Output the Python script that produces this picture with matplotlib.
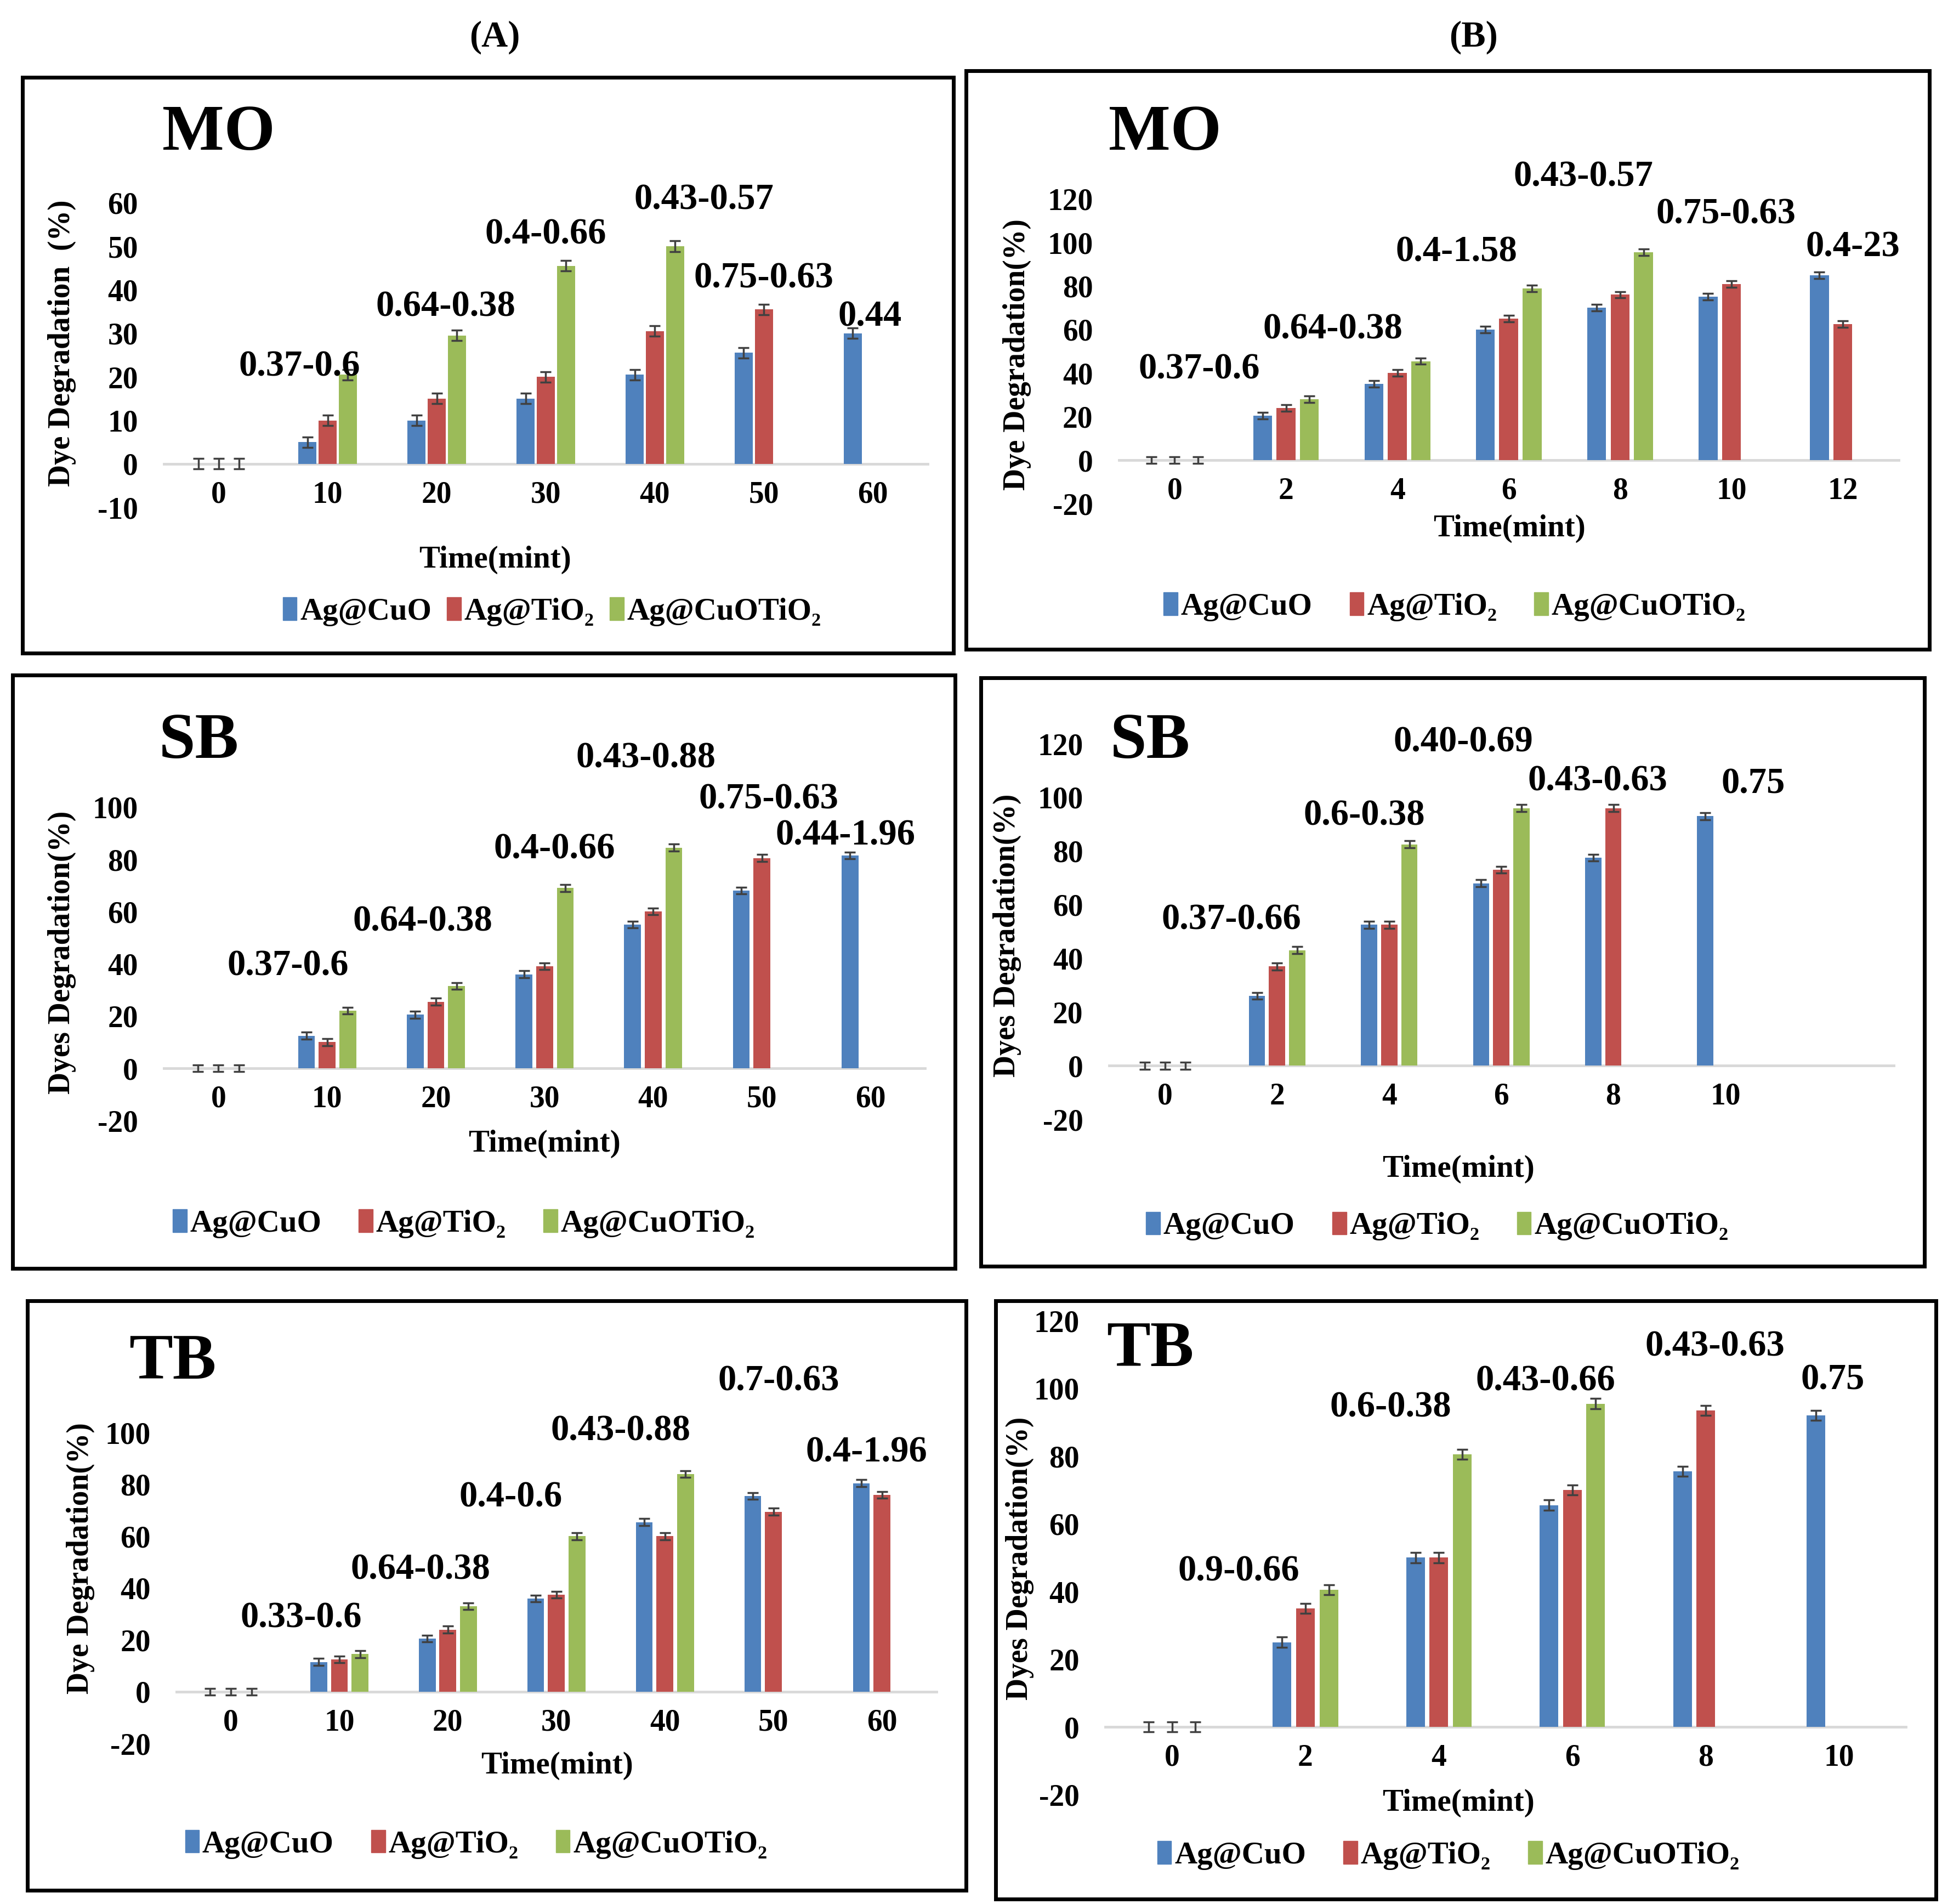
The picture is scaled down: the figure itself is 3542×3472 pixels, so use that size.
import numpy as np
import matplotlib
matplotlib.use("Agg")
import matplotlib.pyplot as plt
import matplotlib.patches as mpatches

plt.rcParams['font.family'] = ['Liberation Serif', 'DejaVu Serif']
plt.rcParams['font.weight'] = 'bold'
plt.rcParams['axes.unicode_minus'] = False

nan = np.nan

# categories (time, min)
times_a = ['0', '10', '20', '30', '40', '50', '60']
times_b_mo = ['0', '2', '4', '6', '8', '10', '12']
times_b = ['0', '2', '4', '6', '8', '10']

series_names = ['Ag@CuO', 'Ag@TiO\u2082', 'Ag@CuOTiO\u2082']

# MO (A)
mo_a_cuo = [0, 5, 10, 15, 20.5, 25.5, 30]
mo_a_tio2 = [0, 10, 15, 20, 30.5, 35.5, nan]
mo_a_cuotio2 = [0, 20.5, 29.5, 45.5, 50, nan, nan]
mo_a_notes = ['0.37-0.6', '0.64-0.38', '0.4-0.66', '0.43-0.57', '0.75-0.63', '0.44']

# MO (B)
mo_b_cuo = [0, 20.5, 35, 60, 70, 75, 85]
mo_b_tio2 = [0, 24, 40, 65, 76, 81, 62.5]
mo_b_cuotio2 = [0, 28, 45.5, 79, 95.5, nan, nan]
mo_b_notes = ['0.37-0.6', '0.64-0.38', '0.4-1.58', '0.43-0.57', '0.75-0.63', '0.4-23']

# SB (A)
sb_a_cuo = [0, 12.5, 20.5, 36, 55, 68, 81.5]
sb_a_tio2 = [0, 10, 25.5, 39, 60, 80.5, nan]
sb_a_cuotio2 = [0, 22, 31.5, 69, 84.5, nan, nan]
sb_a_notes = ['0.37-0.6', '0.64-0.38', '0.4-0.66', '0.43-0.88', '0.75-0.63', '0.44-1.96']

# SB (B)
sb_b_cuo = [0, 26, 52.5, 68, 77.5, 93]
sb_b_tio2 = [0, 37, 52.5, 73, 96, nan]
sb_b_cuotio2 = [0, 43, 82.5, 96, nan, nan]
sb_b_notes = ['0.37-0.66', '0.6-0.38', '0.40-0.69', '0.43-0.63', '0.75']

# TB (A)
tb_a_cuo = [0, 11.5, 20.5, 36, 65.5, 75.5, 80.5]
tb_a_tio2 = [0, 12.5, 24, 37.5, 60, 69.5, 76]
tb_a_cuotio2 = [0, 14.5, 33, 60, 84, nan, nan]
tb_a_notes = ['0.33-0.6', '0.64-0.38', '0.4-0.6', '0.43-0.88', '0.7-0.63', '0.4-1.96']

# TB (B)
tb_b_cuo = [0, 25, 50, 65.5, 75.5, 92]
tb_b_tio2 = [0, 35, 50, 70, 93.5, nan]
tb_b_cuotio2 = [0, 40.5, 80.5, 95.5, nan, nan]
tb_b_notes = ['0.9-0.66', '0.6-0.38', '0.43-0.66', '0.43-0.63', '0.75']

COLORS = ['#4F81BD', '#C0504D', '#9BBB59']

# reference layout measured on a 1562 x 1531 view of the figure
VW, VH = 1562.0, 1531.0


def fx(x):
    return x / VW


def fy(y):
    return 1 - y / VH


def panel(fig, name, cats, series, err, notes, lay):
    x0, x1, ytop, ybot = lay['ax']
    ax = fig.add_axes([fx(x0), fy(ybot), fx(x1) - fx(x0), fy(ytop) - fy(ybot)])
    ax.patch.set_alpha(0)
    n_slots = lay.get('slots', len(cats))
    x = np.arange(len(cats))
    w, off = lay['bar']
    for k, vals in enumerate(series):
        vals = np.array(vals, dtype=float)
        ok = ~np.isnan(vals)
        xs = x[ok] + (k - 1) * off
        ax.bar(xs, vals[ok], width=w, color=COLORS[k], zorder=2)
        ax.errorbar(xs, vals[ok], yerr=err, fmt='none', ecolor='#404040',
                    elinewidth=2.5, capsize=7, capthick=2.5, zorder=3)

    ax.set_xlim(-0.5, n_slots - 0.5)
    ax.set_ylim(*lay['ylim'])
    ax.set_yticks(np.arange(lay['ylim'][0], lay['ylim'][1] + 1, lay['ystep']))
    ax.set_xticks(x)
    ax.set_xticklabels(cats)
    for s in ['top', 'right', 'left']:
        ax.spines[s].set_visible(False)
    ax.spines['bottom'].set_position(('data', 0))
    ax.spines['bottom'].set_color('#D9D9D9')
    ax.spines['bottom'].set_linewidth(3.5)
    ax.spines['bottom'].set_zorder(1)
    ax.tick_params(axis='both', length=0, labelsize=40)
    ax.tick_params(axis='x', pad=22)
    ax.tick_params(axis='y', pad=34)

    # rate labels above the groups
    for txt, (xi, yv) in zip(notes, lay['notes']):
        ax.text(xi, yv, txt, fontsize=48, ha='center', va='center',
                clip_on=False, zorder=4)

    fig.text(fx(lay['name'][0]), fy(lay['name'][1]), name, fontsize=86,
             ha='center', va='center')
    fig.text(fx(lay['ylab'][0]), fy(lay['ylab'][1]), lay['ylab'][2],
             fontsize=40, rotation=90, ha='center', va='center')
    fig.text(fx(lay['xlab'][0]), fy(lay['xlab'][1]), 'Time(mint)',
             fontsize=41, ha='center', va='center')

    handles = [mpatches.Patch(color=c, label=l) for c, l in zip(COLORS, series_names)]
    fig.legend(handles=handles, loc='center',
               bbox_to_anchor=(fx(lay['leg'][0]), fy(lay['leg'][1])),
               ncol=3, frameon=False, fontsize=41,
               handlelength=0.45, handleheight=0.75, handletextpad=0.1,
               columnspacing=lay['leg'][2])

    bx0, by0, bx1, by1 = lay['box']
    fig.patches.append(mpatches.Rectangle(
        (fx(bx0), fy(by1)), fx(bx1) - fx(bx0), fy(by0) - fy(by1),
        transform=fig.transFigure, fill=False, edgecolor='black', linewidth=5))
    return ax


fig = plt.figure(figsize=(35.42, 34.72), dpi=100, facecolor='white')

fig.text(fx(398), fy(30), '(A)', fontsize=48, ha='center', va='center')
fig.text(fx(1185), fy(30), '(B)', fontsize=48, ha='center', va='center')

panel(fig, 'MO', times_a, [mo_a_cuo, mo_a_tio2, mo_a_cuotio2], 1.2, mo_a_notes, dict(
    ax=(132, 746, 163, 408), ylim=(-10, 60), ystep=10, bar=(0.165, 0.185),
    notes=[(0.74, 22.3), (2.08, 36), (3.0, 52.6), (4.45, 60.6), (5.0, 42.6), (5.97, 33.7)],
    name=(176, 108), ylab=(50, 276, 'Dye Degradation  (%)'), xlab=(398, 450),
    leg=(444, 492, 0.5), box=(18, 62, 767, 525)))

panel(fig, 'MO', times_b_mo, [mo_b_cuo, mo_b_tio2, mo_b_cuotio2], 1.5, mo_b_notes, dict(
    ax=(900, 1527, 160, 405), ylim=(-20, 120), ystep=20, bar=(0.17, 0.21),
    notes=[(0.22, 41.7), (1.42, 60), (2.53, 95.4), (3.67, 130), (4.95, 113), (6.09, 97.7)],
    name=(937, 108), ylab=(818, 285, 'Dye Degradation(%)'), xlab=(1214, 425),
    leg=(1170, 488, 1.2), box=(777, 57, 1552, 522)))

panel(fig, 'SB', times_a, [sb_a_cuo, sb_a_tio2, sb_a_cuotio2], 1.3, sb_a_notes, dict(
    ax=(132, 744, 649, 901), ylim=(-20, 100), ystep=20, bar=(0.155, 0.19),
    notes=[(0.64, 39), (1.88, 56), (3.09, 83.8), (3.93, 118.6), (5.06, 102.9), (5.77, 89)],
    name=(160, 597), ylab=(50, 766, 'Dyes Degradation(%)'), xlab=(438, 920),
    leg=(373, 984, 1.2), box=(10, 543, 768, 1020)))

panel(fig, 'SB', times_b, [sb_b_cuo, sb_b_tio2, sb_b_cuotio2], 1.3, sb_b_notes, dict(
    ax=(892, 1523, 598, 900), ylim=(-20, 120), ystep=20, bar=(0.145, 0.18), slots=7,
    notes=[(0.59, 54.2), (1.78, 93), (2.66, 120.5), (3.86, 106), (5.25, 105)],
    name=(925, 597), ylab=(810, 752, 'Dyes Degradation(%)'), xlab=(1173, 940),
    leg=(1156, 986, 1.2), box=(789, 545, 1548, 1018)))

panel(fig, 'TB', times_a, [tb_a_cuo, tb_a_tio2, tb_a_cuotio2], 1.3, tb_a_notes, dict(
    ax=(142, 753, 1152, 1402), ylim=(-20, 100), ystep=20, bar=(0.155, 0.19),
    notes=[(0.65, 28.4), (1.75, 47), (2.58, 75), (3.59, 100.5), (5.05, 119.7), (5.86, 92.3)],
    name=(139, 1096), ylab=(65, 1253, 'Dye Degradation(%)'), xlab=(448, 1420),
    leg=(383, 1483, 1.2), box=(22, 1046, 777, 1520)))

panel(fig, 'TB', times_b, [tb_b_cuo, tb_b_tio2, tb_b_cuotio2], 1.5, tb_b_notes, dict(
    ax=(889, 1533, 1062, 1443), ylim=(-20, 120), ystep=20, bar=(0.14, 0.175),
    notes=[(0.5, 45.9), (1.64, 94.3), (2.8, 102), (4.07, 112.3), (4.95, 102.4)],
    name=(925, 1086), ylab=(820, 1253, 'Dyes Degradation(%)'), xlab=(1173, 1450),
    leg=(1165, 1492, 1.2), box=(801, 1046, 1557, 1527)))

fig.savefig('out.png', dpi=100, facecolor='white')
